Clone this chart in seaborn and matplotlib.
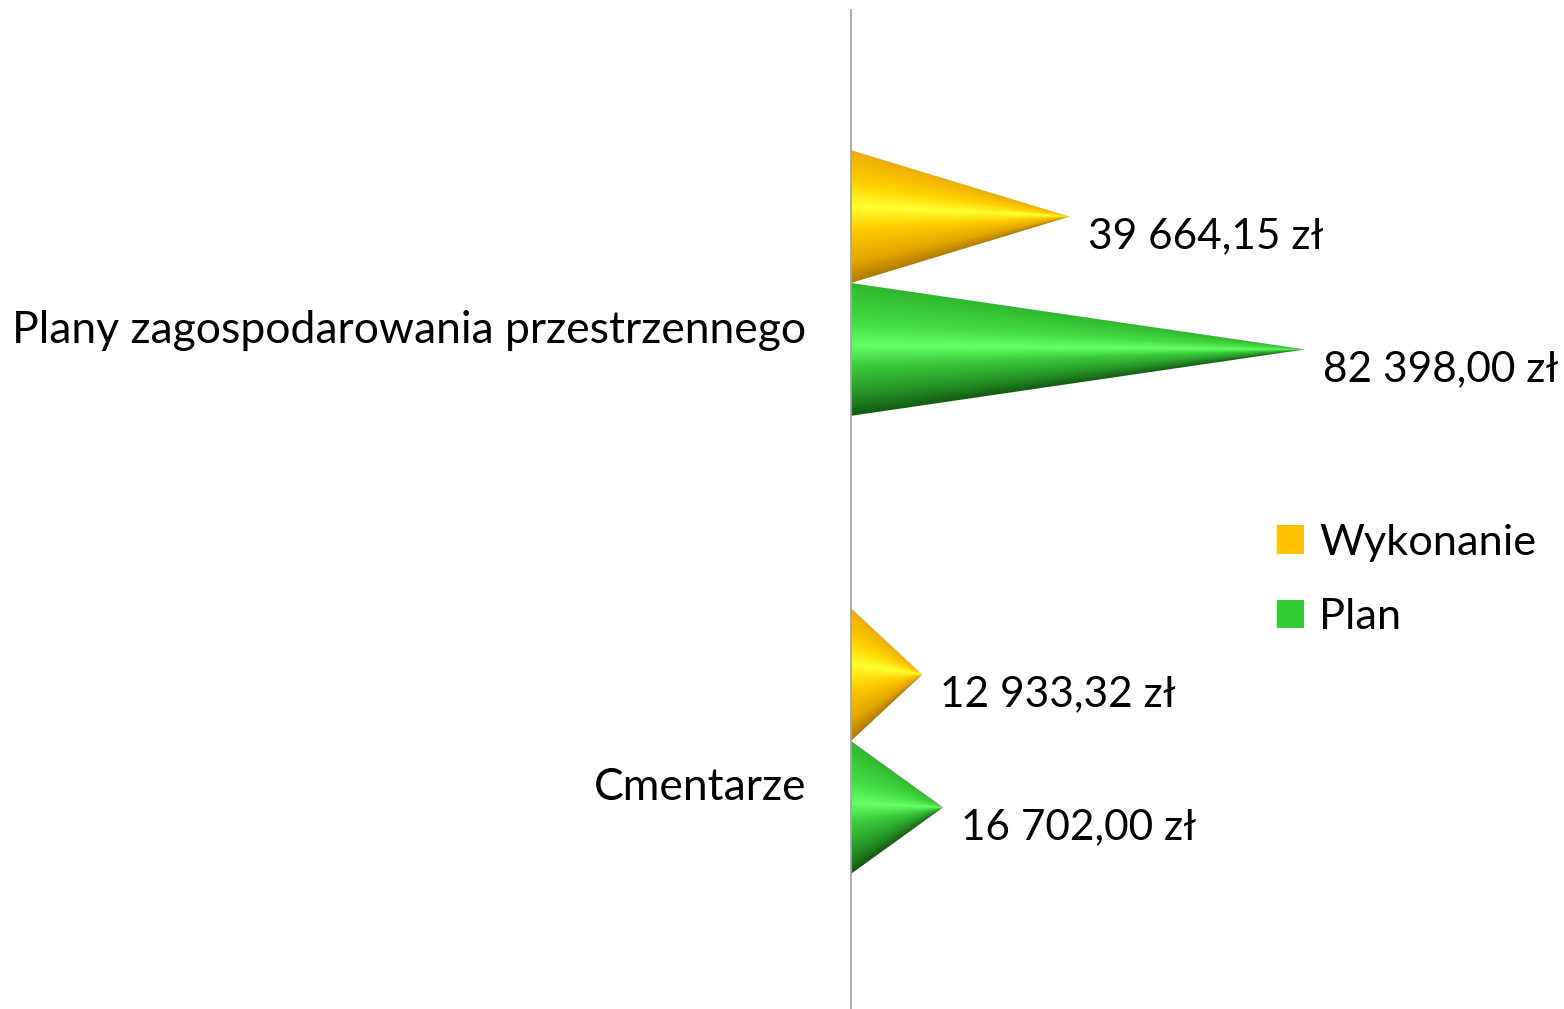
import numpy as np
import pandas as pd
import matplotlib
matplotlib.use("Agg")
import matplotlib.pyplot as plt
import matplotlib.transforms as mtransforms
import seaborn as sns
from matplotlib.patches import Polygon, Patch
from matplotlib.colors import LinearSegmentedColormap

# ---- data ----
categories = ["Plany zagospodarowania przestrzennego", "Cmentarze"]
series = ["Wykonanie", "Plan"]
wykonanie = [39664.15, 12933.32]
plan = [82398.00, 16702.00]
legend_colors = {"Wykonanie": "#FFC000", "Plan": "#33CC33"}

df = pd.DataFrame({
    "kategoria": categories * 2,
    "seria": [series[0]] * 2 + [series[1]] * 2,
    "wartosc": wykonanie + plan,
})

sns.set_theme(style="white")
plt.rcParams["font.family"] = ["Lato", "DejaVu Sans"]
plt.rcParams["text.color"] = "black"

FS_LABEL = 30.5
FS_TICK = 32
FS_LEG = 31.2
fig = plt.figure(figsize=(15.64, 10.09), dpi=100)
ax = fig.add_axes([851 / 1564, 0.0, 1 - 851 / 1564, 1 - 10 / 1009])

sns.barplot(data=df, y="kategoria", x="wartosc", hue="seria",
            order=categories, hue_order=series, orient="h",
            width=0.58, gap=0, palette=legend_colors, ax=ax,
            legend=False, errorbar=None)

cmaps = {
    "Wykonanie": LinearSegmentedColormap.from_list("y", [
        (0.0, "#EDAE00"), (0.25, "#FFD200"), (0.42, "#FFFF30"),
        (0.6, "#FFCC00"), (0.85, "#E2A400"), (1.0, "#B07C00")]),
    "Plan": LinearSegmentedColormap.from_list("g", [
        (0.0, "#2DB82D"), (0.3, "#45DD45"), (0.47, "#66FF66"),
        (0.62, "#3BCB3B"), (0.85, "#249024"), (1.0, "#145A14")]),
}

patches = list(ax.patches)
for i, p in enumerate(patches):
    s = series[i // len(categories)]
    v = p.get_width()
    y0 = p.get_y()
    h = p.get_height()
    p.set_visible(False)
    yc = y0 + h / 2
    tri = Polygon([(0, y0), (v, yc), (0, y0 + h)], closed=True,
                  facecolor="none", edgecolor="none", transform=ax.transData)
    ax.add_patch(tri)
    nx, ny = 400, 300
    xs = np.linspace(0, v, nx)
    ys = np.linspace(y0, y0 + h, ny)
    X, Y = np.meshgrid(xs, ys)
    hw = (h / 2) * (1 - X / v) + 1e-9
    t = np.clip((Y - yc) / hw, -1, 1)
    img = cmaps[s]((t + 1) / 2)
    im = ax.imshow(img, extent=(0, v, y0 + h, y0), origin="upper",
                   aspect="auto", interpolation="bilinear", zorder=2)
    im.set_clip_path(tri)
    label = f"{v:,.2f}".replace(",", " ").replace(".", ",") + " zł"
    ax.annotate(label, xy=(v, yc), xytext=(13, -14), textcoords="offset points",
                ha="left", va="center", fontsize=FS_LABEL, color="black")

ax.set_xlim(0, (1564 - 851) / 454 * 82398)
ax.set_ylim(1 + (1009 - 741) / 458, -(283 - 10) / 458)
ax.set_xlabel("")
ax.set_ylabel("")
ax.set_xticks([])
ax.tick_params(axis="y", length=0, pad=32, labelsize=FS_TICK, labelcolor="black")
shift = mtransforms.ScaledTranslation(0, -43 / 100, fig.dpi_scale_trans)
for lab in ax.get_yticklabels():
    lab.set_transform(lab.get_transform() + shift)
for sp in ["top", "right", "bottom"]:
    ax.spines[sp].set_visible(False)
ax.spines["left"].set_color("#A6A6A6")
ax.spines["left"].set_linewidth(1.3)

handles = [Patch(facecolor=legend_colors[s], edgecolor="none", label=s) for s in series]
fig.legend(handles=handles, loc="center left",
           bbox_to_anchor=(1277 / 1564, 1 - 580 / 1009), frameon=False,
           fontsize=FS_LEG, handlelength=0.63, handleheight=0.63,
           handletextpad=0.34, labelspacing=0.85, borderpad=0, borderaxespad=0,
           labelcolor="black")

fig.savefig("out.png", dpi=100)
